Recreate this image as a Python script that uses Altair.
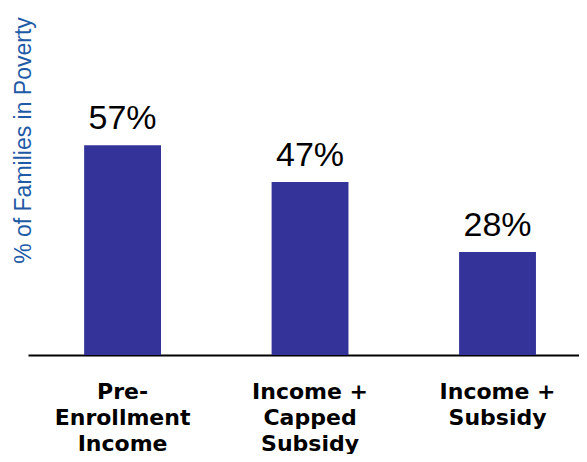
import altair as alt
import pandas as pd

categories = ["Pre-|Enrollment|Income", "Income +|Capped|Subsidy", "Income +|Subsidy"]
values = [57, 47, 28]
labels = ["57%", "47%", "28%"]

df = pd.DataFrame({"cat": categories, "val": values, "lab": labels})

x = alt.X("cat:N", sort=categories, title=None,
          scale=alt.Scale(paddingInner=0.59, paddingOuter=0.2645, align=0.566),
          axis=alt.Axis(labelAngle=0, labelExpr="split(datum.label, '|')",
                        labelFont="DejaVu Sans", labelFontWeight="bold", labelFontSize=22,
                        labelColor="black", labelLineHeight=26, labelPadding=26,
                        ticks=False, domainColor="black", domainWidth=2, labelBaseline="top"))
y = alt.Y("val:Q", scale=alt.Scale(domain=[0, 94.3], nice=False),
          axis=alt.Axis(title="% of Families in Poverty", labels=False, ticks=False, grid=False,
                        domain=False, titleFont="Liberation Sans", titleFontSize=23,
                        titleFontWeight="normal", titleColor="#1f5aa6", titleY=132,
                        titleX=2, titleBaseline="alphabetic", titleAngle=270,
                        titlePadding=0))

bars = alt.Chart(df).mark_bar(color="#333399").encode(x=x, y=y)
text = alt.Chart(df).mark_text(dy=-16, baseline="alphabetic", font="Liberation Sans",
                               fontSize=34, color="black").encode(
    x=alt.X("cat:N", sort=categories), y="val:Q", text="lab:N")

chart = (bars + text).properties(
    width=551, height=347,
    padding={"left": 20, "top": 0, "right": 0, "bottom": 99},
    autosize=alt.AutoSizeParams(type="none"),
).configure_view(stroke=None)

chart.save("out.html", embed_options={"renderer": "svg", "actions": False})
